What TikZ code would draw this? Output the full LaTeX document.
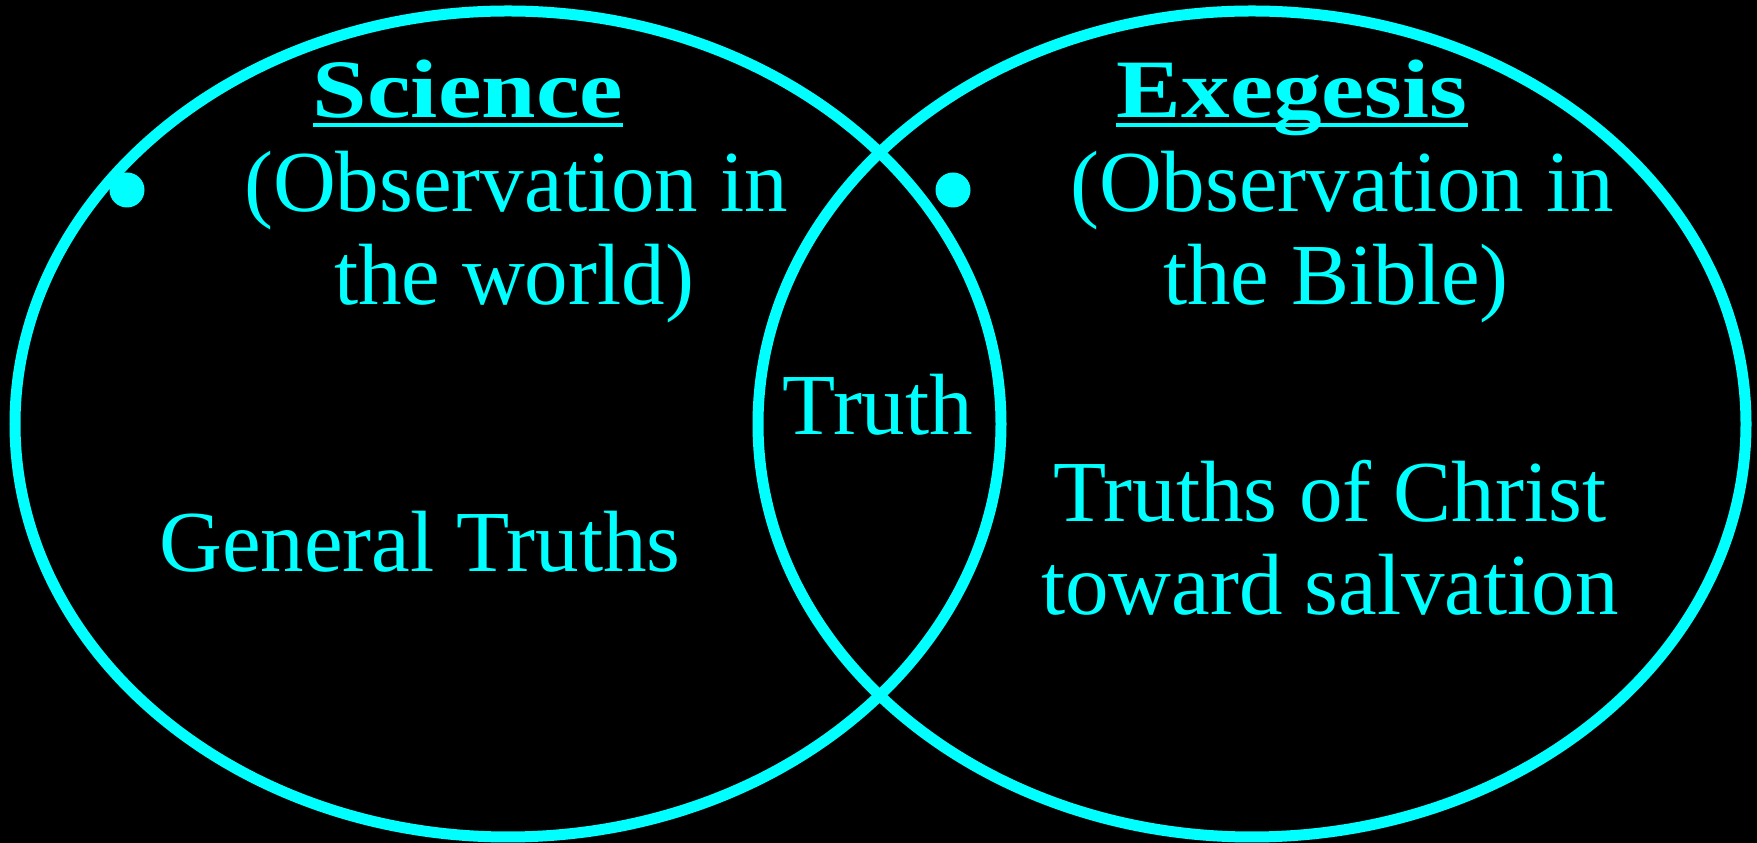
\documentclass[tikz,border=0pt]{standalone}
\usepackage{fontspec}
\setmainfont{Liberation Serif}
\usepackage{graphicx}
\definecolor{cy}{RGB}{0,255,255}
\begin{document}
\begin{tikzpicture}[x=1pt,y=1pt,
  ring/.style={draw=cy,line width=11pt},
  txt/.style={text=cy,inner sep=0pt,anchor=base,font=\fontsize{87}{93}\selectfont},
  ttl/.style={text=cy,inner sep=0pt,anchor=base,font=\fontsize{83}{90}\selectfont\bfseries},
  uline/.style={draw=cy,line width=4.5pt},
  dot/.style={circle,fill=cy,inner sep=0pt,minimum size=35pt}]
\fill[black] (0,0) rectangle (1757,843);
\useasboundingbox (0,0) rectangle (1757,843);
\draw[ring] (508,419) ellipse [x radius=493, y radius=413];
\draw[ring] (1252,419) ellipse [x radius=494, y radius=413];
\node[ttl] (sci) at (468,725) {\scalebox{1.18}[1]{Science}};
\node[ttl] (exe) at (1292,725) {\scalebox{1.17}[1]{Exegesis}};
\draw[uline] ([yshift=-7pt]sci.base west) -- ([yshift=-7pt]sci.base east);
\draw[uline] ([yshift=-7pt]exe.base west) -- ([yshift=-7pt]exe.base east);
\node[dot] (bl) at (127,653) {};
\node[dot] (br) at (953,653) {};
\node[txt] (l1) at (516,631) {(Observation in};
\node[txt] (l2) at (514,538) {the world)};
\node[txt] (r1) at (1342,631) {(Observation in};
\node[txt] (r2) at (1336,538) {the Bible)};
\node[txt] (tr) at (878,408) {Truth};
\node[txt] (gen) at (420,271) {General Truths};
\node[txt] (c1) at (1330,321) {Truths of Christ};
\node[txt] (c2) at (1330,228) {toward salvation};
\end{tikzpicture}
\end{document}
